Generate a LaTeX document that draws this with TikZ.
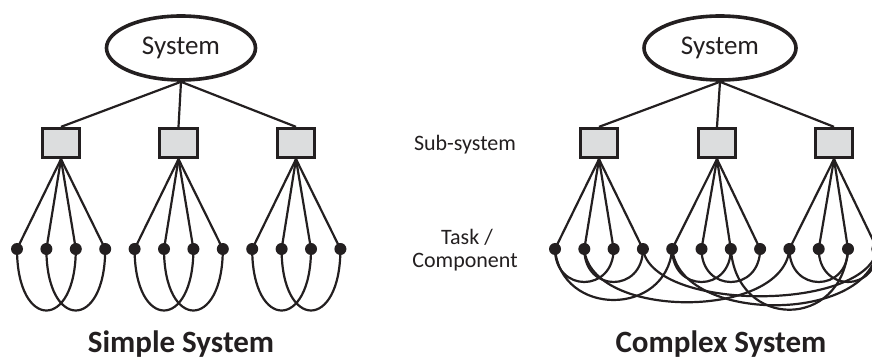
\documentclass[tikz,border=0pt]{standalone}
\usepackage{fontspec}
\setmainfont{Carlito}
\usetikzlibrary{shapes.geometric}
\definecolor{inkblack}{RGB}{35,31,32}
\definecolor{boxgray}{RGB}{220,221,222}
\tikzset{
  sysnode/.style={ellipse, draw=inkblack, line width=3.6pt, minimum width=149pt, minimum height=64pt, inner sep=0pt, text=inkblack, font=\fontsize{27}{30}\selectfont},
  subbox/.style={rectangle, draw=inkblack, fill=boxgray, line width=2.8pt, minimum width=37.5pt, minimum height=29.5pt, inner sep=0pt},
  taskdot/.style={circle, fill=inkblack, minimum size=12pt, inner sep=0pt},
  link/.style={draw=inkblack, line width=2.2pt},
  midlabel/.style={text=inkblack, inner sep=0pt, anchor=base, font=\fontsize{22}{24}\selectfont},
  caption/.style={text=inkblack, inner sep=0pt, anchor=base, font=\fontsize{31}{34}\selectfont\bfseries}
}

\begin{document}
\begin{tikzpicture}[x=1pt, y=1pt]
        \useasboundingbox (0,0) rectangle (872,361);

        % Simple system
        \node[sysnode] (ssys) at (181,313) {System};
        \node[subbox] (sb1) at (61,218) {};
        \node[subbox] (sb2) at (178.5,218) {};
        \node[subbox] (sb3) at (296,218) {};
        \foreach \i in {1,...,12}
            \node[taskdot] (s\i) at ({17+(\i-1)*29.4},112) {};

        % Complex system
        \node[sysnode, minimum width=152pt] (csys) at (720,313) {System};
        \node[subbox] (cb1) at (599,218) {};
        \node[subbox] (cb2) at (717,218) {};
        \node[subbox] (cb3) at (834,218) {};
        \foreach \i in {1,...,12}
            \node[taskdot] (c\i) at ({555+(\i-1)*29.3},112) {};

        % Level labels
        \node[midlabel] (sublbl) at (465,210) {Sub-system};
        \node[midlabel] (tasklbl) at (467,116) {Task /};
        \node[midlabel] (complbl) at (465,93) {Component};
        \node[caption] (scap) at (181,8) {Simple System};
        \node[caption] (ccap) at (721,8) {Complex System};

        % System to sub-systems
        \foreach \b in {1,2,3} {
            \draw[link] (ssys.south) -- (sb\b.north);
            \draw[link] (csys.south) -- (cb\b.north);
        }

        % Sub-systems to tasks
        \foreach \i in {1,...,12} {
            \pgfmathtruncatemacro\g{int((\i-1)/4)+1}
            \draw[link] (sb\g.south) -- (s\i.center);
            \draw[link] (cb\g.south) -- (c\i.center);
        }

        % Task links, simple
        \foreach \a/\b in {1/3,2/4,5/7,6/8,9/11,10/12}
            \draw[link] (s\a.center) .. controls +(0,-82) and +(0,-82) .. (s\b.center);

        % Task links, complex
        \foreach \a/\b in {1/3,2/4,5/7,6/8,9/11,10/12}
            \draw[link] (c\a.center) .. controls +(0,-44) and +(0,-44) .. (c\b.center);
        \draw[link] (c1.center) .. controls +(6,-68) and +(-6,-68) .. (c5.center);
        \draw[link] (c2.center) .. controls +(6,-71) and +(-6,-71) .. (c9.center);
        \draw[link] (c4.center) .. controls +(10,-63) and +(-10,-63) .. (c12.center);
        \draw[link] (c5.center) .. controls +(8,-75) and +(-8,-75) .. (c12.center);
        \draw[link] (c7.center) .. controls +(6,-81) and +(-6,-81) .. (c11.center);
    \end{tikzpicture}
\end{document}
